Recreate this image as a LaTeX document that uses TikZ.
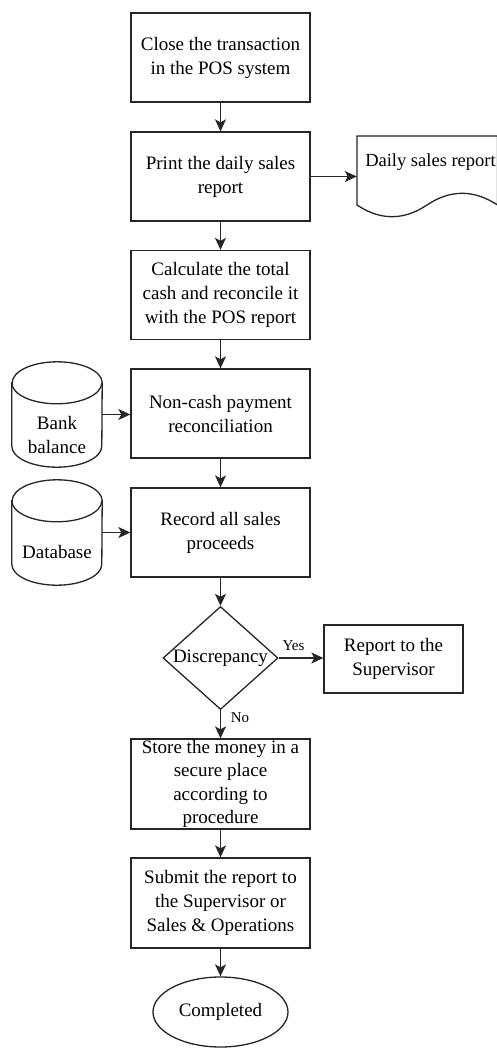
\documentclass[tikz,border=0pt]{standalone}
\usepackage{fontspec}
\setmainfont{Liberation Serif}
\usetikzlibrary{shapes.geometric,arrows.meta}
\begin{document}
\begin{tikzpicture}[x=1pt,y=-1pt,
  every node/.style={font=\fontsize{19}{24}\selectfont, align=center, inner sep=0pt},
  ln/.style={line width=1.3pt, draw=black!85},
  box/.style={ln, rectangle, fill=white, minimum width=179pt, minimum height=89pt},
  arr/.style={ln, -{Stealth[length=12pt,width=11pt,inset=3pt]}},
  lbl/.style={font=\fontsize{15}{18}\selectfont}
]
\useasboundingbox (0,0) rectangle (497,1048);

% main boxes
\node[box] (b1) at (220.5,57.5) {Close the transaction\\in the POS system};
\node[box] (b2) at (220.5,176.5) {Print the daily sales\\report};
\node[box] (b3) at (220.5,295) {Calculate the total\\cash and reconcile it\\with the POS report};
\node[box] (b4) at (220.5,413.5) {Non-cash payment\\reconciliation};
\node[box] (b5) at (220.5,532.5) {Record all sales\\proceeds};
\node[ln, diamond, fill=white, minimum width=115pt, minimum height=103pt] (dec) at (220.5,658) {\makebox[0pt]{Discrepancy}};
\node[box, minimum width=139pt, minimum height=68pt] (rep) at (393.5,659) {Report to the\\Supervisor};
\node[box, minimum height=90pt, font=\fontsize{19}{23.5}\selectfont] (b6) at (220.5,784) {Store the money in a\\secure place\\according to\\procedure};
\node[box, minimum height=90pt] (b7) at (220.5,903) {Submit the report to\\the Supervisor or\\Sales \& Operations};
\node[ln, ellipse, fill=white, minimum width=135pt, minimum height=70pt] (end) at (220.5,1012) {Completed};

% document shape
\node[minimum width=140pt, minimum height=70pt] (doc) at (427,171) {};
\draw[ln, fill=white] (357,136) -- (497.5,136) -- (497.5,205)
  .. controls (473.7,189.4) and (450.3,189.4) .. (427,205)
  .. controls (403.7,220.6) and (380.3,220.6) .. (357,205) -- cycle;
\node[font=\fontsize{18.5}{23}\selectfont] (doct) at (430.5,162) {Daily sales report};

% cylinders
\node[minimum width=90pt, minimum height=105pt] (bank) at (57,414.5) {};
\draw[ln, fill=white] ([yshift=-21pt]bank.north west) -- ([yshift=21pt]bank.south west)
  arc[start angle=180, end angle=360, x radius=45pt, y radius=21pt]
  -- ([yshift=-21pt]bank.north east)
  arc[start angle=0, end angle=180, x radius=45pt, y radius=21pt] -- cycle;
\draw[ln] ([yshift=-21pt]bank.north west) arc[start angle=180, end angle=360, x radius=45pt, y radius=21pt];
\node (bankt) at (57,434.5) {Bank\\balance};

\node[minimum width=90pt, minimum height=105pt] (db) at (57,532.5) {};
\draw[ln, fill=white] ([yshift=-21pt]db.north west) -- ([yshift=21pt]db.south west)
  arc[start angle=180, end angle=360, x radius=45pt, y radius=21pt]
  -- ([yshift=-21pt]db.north east)
  arc[start angle=0, end angle=180, x radius=45pt, y radius=21pt] -- cycle;
\draw[ln] ([yshift=-21pt]db.north west) arc[start angle=180, end angle=360, x radius=45pt, y radius=21pt];
\node (dbt) at (57,552) {Database};

% connectors
\draw[arr] (b1.south) -- (b2.north);
\draw[arr] (b2.south) -- (b3.north);
\draw[arr] (b3.south) -- (b4.north);
\draw[arr] (b4.south) -- (b5.north);
\draw[arr] (b5.south) -- (dec.north);
\draw[arr] (dec.south) -- (b6.north);
\draw[arr] (b6.south) -- (b7.north);
\draw[arr] (b7.south) -- (end.north);
\draw[arr] (b2.east) -- (b2.east -| doc.west);
\draw[arr] (bank.east) -- (bank.east -| b4.west);
\draw[arr] (db.east) -- (db.east -| b5.west);
\draw[arr] (dec.east) -- (dec.east -| rep.west);

\node[lbl] (yes) at (293.5,645.5) {Yes};
\node[lbl] (no) at (240,718) {No};
\end{tikzpicture}
\end{document}
